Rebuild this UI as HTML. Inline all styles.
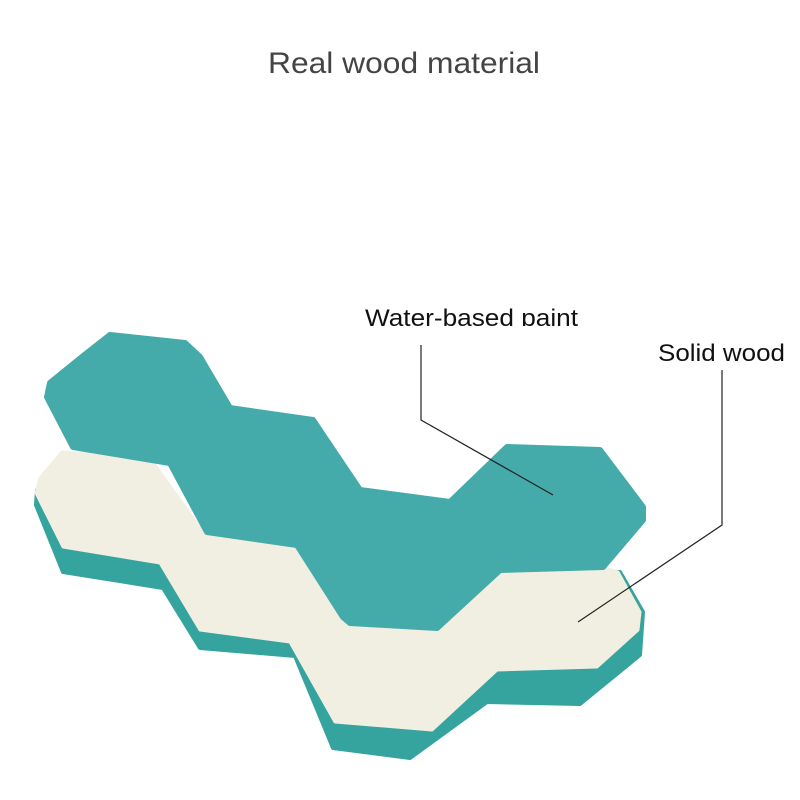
<!DOCTYPE html>
<html><head><meta charset="utf-8"><style>
html,body{margin:0;padding:0;background:#fff;width:800px;height:800px;overflow:hidden}
svg{display:block}
</style></head><body>
<svg width="800" height="800" viewBox="0 0 800 800" xmlns="http://www.w3.org/2000/svg">
<defs>
<clipPath id="c"><rect x="0" y="0" width="800" height="326"/></clipPath>
</defs>
<text x="268" y="73" font-family="Liberation Sans, sans-serif" font-size="30" fill="#444" textLength="272" lengthAdjust="spacingAndGlyphs">Real wood material</text>
<text x="365" y="326" font-family="Liberation Sans, sans-serif" font-size="24" fill="#111" textLength="213" lengthAdjust="spacingAndGlyphs" clip-path="url(#c)">Water-based paint</text>
<text x="658" y="361" font-family="Liberation Sans, sans-serif" font-size="24" fill="#111" textLength="127" lengthAdjust="spacingAndGlyphs">Solid wood</text>

<!-- teal side band -->
<polygon points="37,490 36,505 63,572 163,588 200,648 295,656 333,748 410,758 487,702 580,704 640,655 643,612 620,572 500,570 300,545 160,560 63,540" fill="#35a39e" stroke="#35a39e" stroke-width="4" stroke-linejoin="round"/>
<!-- wood face -->
<polygon points="62,452 150,458 205,535 300,545 345,620 440,630 500,570 600,566 618,572 640,612 638,630 597,667 497,670 432,730 335,722 290,642 200,630 160,563 63,547 36,493 40,478" fill="#f1eee2" stroke="#f1eee2" stroke-width="3" stroke-linejoin="round"/>
<!-- paint -->
<polygon points="110,335 185,343 200,357 230,408 313,420 360,490 450,502 507,447 600,450 643,507 643,520 603,567 500,570 437,628 350,623 343,617 297,545 207,532 170,463 73,447 47,397 50,383 82,357" fill="#44abaa" stroke="#44abaa" stroke-width="6" stroke-linejoin="round"/>

<polyline points="421,345 421,420 553,495" fill="none" stroke="#222" stroke-width="1.2"/>
<polyline points="722,370 722,525 578,622" fill="none" stroke="#222" stroke-width="1.2"/>
</svg>
</body></html>
